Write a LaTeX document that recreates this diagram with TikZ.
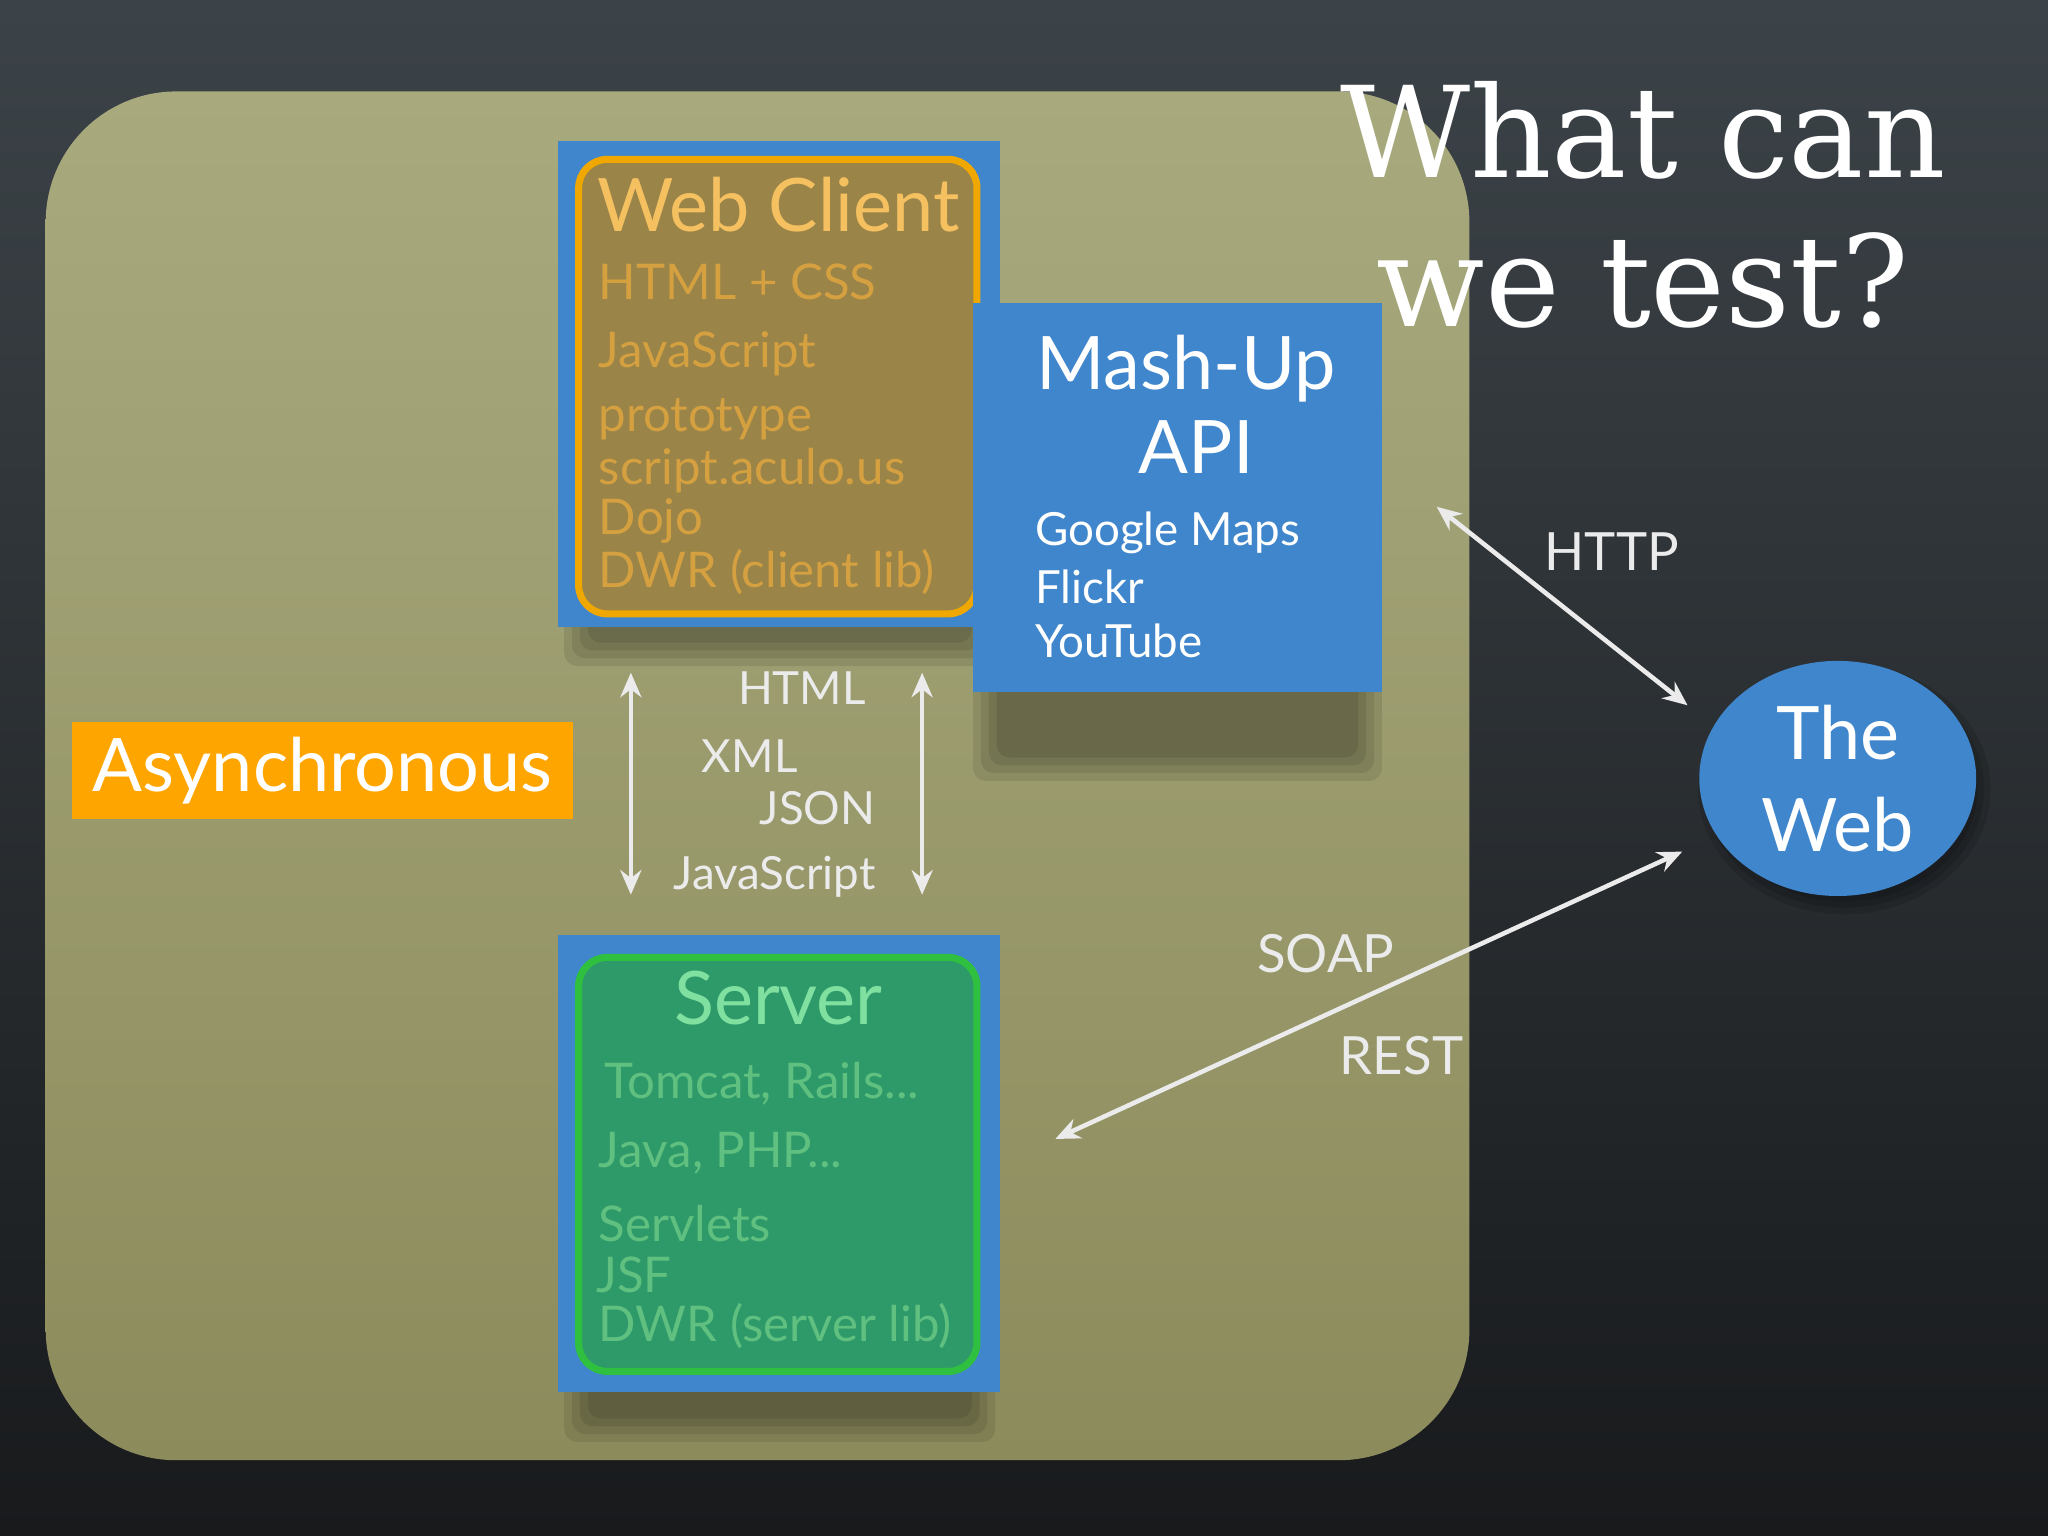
\documentclass[tikz,border=0pt]{standalone}
\usepackage{fontspec}
\setmainfont{Lato}
\newfontfamily\titlefont{DejaVu Serif}
\usetikzlibrary{shapes.geometric,arrows.meta}
\definecolor{bgtop}{HTML}{3C4348}
\definecolor{bgbot}{HTML}{181A1C}
\definecolor{oliveTop}{HTML}{A8AA7E}
\definecolor{oliveBot}{HTML}{8C8B5C}
\definecolor{blu}{HTML}{3F86CC}
\definecolor{wcfill}{HTML}{9A8448}
\definecolor{wcedge}{HTML}{F0A800}
\definecolor{wctitle}{HTML}{F5C060}
\definecolor{wctext}{HTML}{D4A040}
\definecolor{svfill}{HTML}{2E9A6A}
\definecolor{svedge}{HTML}{30C040}
\definecolor{svtitle}{HTML}{80E0A0}
\definecolor{svtext}{HTML}{60C080}
\definecolor{asy}{HTML}{FFA500}
\tikzset{
  x=0.013061cm, y=-0.013061cm,
  shadow/.style={fill=black, opacity=0.09, rounded corners=10*0.013061cm},
  wcitem/.style={anchor=west, text=wctext, font=\fontsize{14}{16}\selectfont, inner sep=0},
  svitem/.style={anchor=west, text=svtext, font=\fontsize{14}{16}\selectfont, inner sep=0},
  mitem/.style={anchor=west, text=white, font=\fontsize{13}{15}\selectfont, inner sep=0},
  lbl/.style={text=white!92!black, font=\fontsize{13}{15}\selectfont, inner sep=0},
  arr/.style={white!92!black, line width=1.3pt, {Stealth[length=7pt,width=6pt]}-{Stealth[length=7pt,width=6pt]}},
}
\begin{document}
\begin{tikzpicture}
\useasboundingbox (0,0) rectangle (1568,1176);
\shade[top color=bgtop, bottom color=bgbot] (0,0) rectangle (1568,1176);
\shade[top color=oliveTop, bottom color=oliveBot, rounded corners=100*0.013061cm] (35,70) rectangle (1125,1118);
% soft shadows
\foreach \d in {0,6,12,18}{
  \fill[shadow] (432+\d,470) rectangle (762-\d,510-\d);
  \fill[shadow] (745+\d,520) rectangle (1058-\d,598-\d);
  \fill[shadow] (432+\d,1056) rectangle (762-\d,1104-\d);
}
% Web client
\node[fill=blu, minimum width=339*0.013061cm, minimum height=372*0.013061cm, inner sep=0] (wcbox) at (596.5,294) {};
\fill[wcfill, draw=wcedge, line width=2pt, rounded corners=22*0.013061cm] (443,122) rectangle (748,470);
\node[text=wctitle, font=\fontsize{21}{24}\selectfont] (wct) at (596,157) {Web Client};
\node[wcitem] (w1) at (458,216) {HTML + CSS};
\node[wcitem] (w2) at (458,271) {JavaScript};
\node[wcitem] (w3) at (458,321) {prototype};
\node[wcitem] (w4) at (458,360) {script.aculo.us};
\node[wcitem] (w5) at (458,399) {Dojo};
\node[wcitem] (w6) at (458,438) {DWR (client lib)};
% Mash-up
\node[fill=blu, minimum width=313*0.013061cm, minimum height=298*0.013061cm, inner sep=0] (mash) at (901.5,381) {};
\node[text=white, font=\fontsize{21}{24}\selectfont] (m1) at (908,282) {Mash-Up};
\node[text=white, font=\fontsize{21}{24}\selectfont] (m2) at (916,342) {API};
\node[mitem] (m3) at (792,408) {Google Maps};
\node[mitem] (m4) at (792,449) {Flickr};
\node[mitem] (m5) at (792,491) {YouTube};
% Server
\node[fill=blu, minimum width=339*0.013061cm, minimum height=350*0.013061cm, inner sep=0] (svbox) at (596.5,891) {};
\fill[svfill, draw=svedge, line width=2pt, rounded corners=22*0.013061cm] (443,733) rectangle (748,1050);
\node[text=svtitle, font=\fontsize{21}{24}\selectfont] (svt) at (596,764) {Server};
\node[svitem] (s1) at (462,830) {Tomcat, Rails...};
\node[svitem] (s2) at (458,883) {Java, PHP...};
\node[svitem] (s3) at (458,937) {Servlets};
\node[svitem] (s4) at (456,976) {JSF};
\node[svitem] (s5) at (458,1015) {DWR (server lib)};
% Asynchronous
\node[fill=asy, text=white, minimum width=384*0.013061cm, minimum height=74*0.013061cm, inner sep=0, font=\fontsize{21}{24}\selectfont] (asy) at (247,590) {Asynchronous};
% vertical arrows
\coordinate (a1t) at (483,515); \coordinate (a1b) at (483,685);
\coordinate (a2t) at (706,515); \coordinate (a2b) at (706,685);
\draw[arr] (a1t) -- (a1b);
\draw[arr] (a2t) -- (a2b);
\node[lbl] (l1) at (614,527) {HTML};
\node[lbl] (l2) at (574,579) {XML};
\node[lbl] (l3) at (626,619) {JSON};
\node[lbl] (l4) at (593,671) {JavaScript};
% The Web
\foreach \d in {0,5,10}{
  \fill[black, opacity=0.12] (1412,604) ellipse [x radius={(112-\d)*0.013061cm}, y radius={(96-\d)*0.013061cm}];
}
\node[ellipse, fill=blu, minimum width=212*0.013061cm, minimum height=180*0.013061cm, inner sep=0, text=white, align=center, font=\fontsize{21}{26}\selectfont] (web) at (1407,596) {The\\Web};
\coordinate (h1) at (1100,388); \coordinate (h2) at (1292,540);
\draw[arr] (h1) -- (h2);
\node[lbl, font=\fontsize{15}{17}\selectfont] (http) at (1234,422) {HTTP};
\coordinate (s1a) at (808,872); \coordinate (s1b) at (1288,652);
\draw[arr] (s1a) -- (s1b);
\node[lbl, font=\fontsize{15}{17}\selectfont] (soap) at (1015,730) {SOAP};
\node[lbl, font=\fontsize{15}{17}\selectfont] (rest) at (1073,808) {REST};
% title
\node[text=white, font=\titlefont\fontsize{36}{42}\selectfont] (t1) at (1258,100) {What can};
\node[text=white, font=\titlefont\fontsize{36}{42}\selectfont] (t2) at (1258,215) {we test?};
\end{tikzpicture}
\end{document}
